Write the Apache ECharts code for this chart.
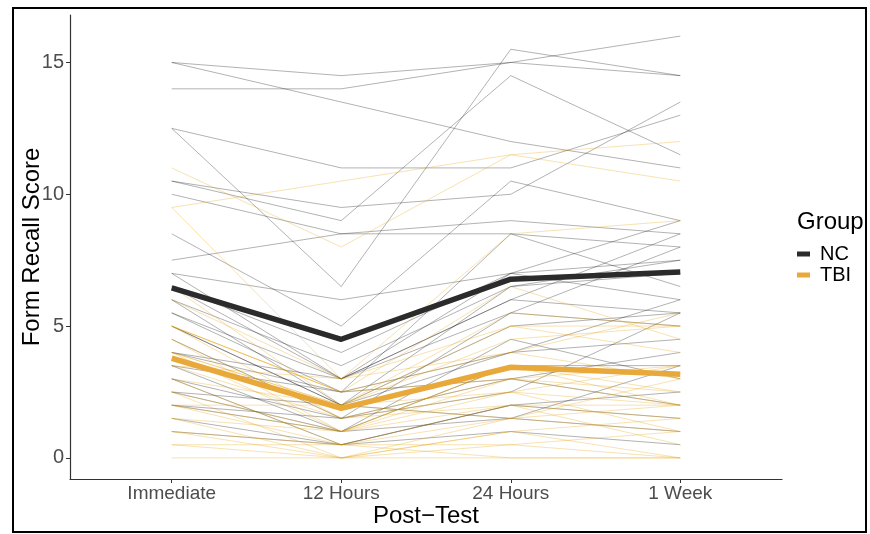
<!DOCTYPE html>
<html>
<head>
<meta charset="utf-8">
<script src="https://cdn.jsdelivr.net/npm/echarts@6/dist/echarts.min.js"></script>
<style>
html,body{margin:0;padding:0;background:#fff;}
#chart{width:870px;height:534px;}
</style>
</head>
<body>
<div id="chart"></div>
<script>
// Categories (time points)
const timePoints = ['Immediate', '12 Hours', '24 Hours', '1 Week'];
const yTicks = [0, 5, 10, 15];

// Group means (thick lines)
const ncMean = [6.45, 4.5, 6.78, 7.05];
const tbiMean = [3.78, 1.88, 3.44, 3.17];

// Individual NC participants: [Immediate, 12 Hours, 24 Hours, 1 Week]
const ncSubjects = [
  [15, 14.5, 15, 16],
  [15, 13.5, 12, 11],
  [14, 14, 15, 14.5],
  [12.5, 11, 11, 13],
  [12.5, 6.5, 15.5, 14.5],
  [10.5, 9, 14.5, 11.5],
  [10.5, 9.5, 10, 13.5],
  [10, 8.5, 9, 8.5],
  [7.5, 8.5, 8.5, 8],
  [8.5, 5, 10.5, 9],
  [7, 6, 7, 9],
  [5.5, 2.5, 8.5, 6.5],
  [7, 3, 6, 8.5],
  [6.5, 4, 7, 6],
  [6, 3.5, 6.5, 7.5],
  [5.5, 3, 6, 5.5],
  [5, 2, 5, 5.5],
  [5, 2, 4, 6],
  [4.5, 1.5, 5.5, 5],
  [4, 3, 5.5, 8],
  [4, 2.5, 3, 4],
  [3.5, 1, 4.5, 3],
  [3, 1.5, 2.5, 5.5],
  [3, 0.5, 2, 2.5],
  [2.5, 2, 1.5, 1],
  [2, 1, 3.5, 3.5],
  [1.5, 0.5, 1, 0.5],
  [6.5, 3, 7, 7.5],
  [6, 2, 6.5, 7],
  [2.5, 1, 1.5, 3.5],
  [1, 0.5, 2, 1.5],
  [3.5, 2.5, 4, 4.5],
  [2, 1.5, 3, 2]
];

// Individual TBI participants: [Immediate, 12 Hours, 24 Hours, 1 Week]
const tbiSubjects = [
  [9.5, 10.5, 11.5, 12],
  [11, 8, 11.5, 10.5],
  [9.5, 3, 8.5, 9],
  [6, 3, 5, 4],
  [4, 2, 5, 5],
  [5, 2.5, 4, 3],
  [4.5, 1.5, 3, 2],
  [4, 2, 2.5, 3.5],
  [4, 1, 3.5, 2.5],
  [3.5, 1.5, 2, 2],
  [3, 0.5, 1.5, 1],
  [3, 2, 4.5, 5],
  [2.5, 1, 2, 1.5],
  [2.5, 0, 1, 0],
  [2, 1, 3, 2.5],
  [2, 0.5, 0.5, 1],
  [1.5, 0, 1.5, 2],
  [1, 0.5, 0, 0],
  [1, 0, 1, 1.5],
  [0.5, 0.5, 2, 0.5],
  [0, 0, 0, 0],
  [5, 2.5, 6.5, 4.5],
  [6.5, 2, 5.5, 5],
  [5, 2.5, 3, 3.5],
  [5, 1.5, 2.5, 2],
  [3.5, 3, 4, 5.5],
  [2, 2, 1.5, 3],
  [0.5, 0, 0.5, 0],
  [4.5, 1, 3.5, 2],
  [1.5, 1, 2.5, 1]
];

const NC_COLOR = '#2b2b2b';
const TBI_COLOR = '#E8A93A';
const FONT = '"Liberation Sans", Arial, sans-serif';

function toPoints(vals) {
  return vals.map((v, i) => [i + 1, v]);
}

const series = [];
ncSubjects.forEach((s) => {
  series.push({
    type: 'line', data: toPoints(s), symbol: 'none', silent: true, z: 2,
    lineStyle: { color: 'rgba(0,0,0,0.3)', width: 1 }
  });
});
tbiSubjects.forEach((s) => {
  series.push({
    type: 'line', data: toPoints(s), symbol: 'none', silent: true, z: 2,
    lineStyle: { color: 'rgba(230,159,0,0.3)', width: 1 }
  });
});
series.push({
  name: 'NC', type: 'line', data: toPoints(ncMean), symbol: 'none', z: 4,
  itemStyle: { color: NC_COLOR },
  lineStyle: { color: NC_COLOR, width: 5.5, join: 'round' }
});
series.push({
  name: 'TBI', type: 'line', data: toPoints(tbiMean), symbol: 'none', z: 4,
  itemStyle: { color: TBI_COLOR },
  lineStyle: { color: TBI_COLOR, width: 5.5, join: 'round' }
});

const chart = echarts.init(document.getElementById('chart'), null, { renderer: 'canvas' });
chart.setOption({
  animation: false,
  backgroundColor: '#ffffff',
  textStyle: { fontFamily: FONT },
  grid: { left: 70, right: 88, top: 15, bottom: 55, containLabel: false },
  title: {
    text: 'Group', left: 797, top: 210, padding: 0,
    textStyle: { fontFamily: FONT, fontSize: 24, fontWeight: 'normal', color: '#000' }
  },
  legend: {
    data: [{ name: 'NC', icon: 'rect' }, { name: 'TBI', icon: 'rect' }],
    orient: 'vertical', left: 797, top: 244, padding: 0,
    itemWidth: 13, itemHeight: 5, itemGap: 1,
    textStyle: { fontFamily: FONT, fontSize: 20, color: '#000', lineHeight: 20, padding: [0, 0, 0, 5] },
    selectedMode: false
  },
  xAxis: {
    type: 'value', min: 0.4, max: 4.6,
    name: 'Post\u2212Test', nameLocation: 'middle', nameGap: 25, nameMoveOverlap: false,
    nameTextStyle: { fontFamily: FONT, fontSize: 24, color: '#000' },
    splitLine: { show: false },
    axisLine: { show: true, onZero: false, lineStyle: { color: '#333', width: 1.2 } },
    axisTick: { show: true, customValues: [1, 2, 3, 4], length: 4, lineStyle: { color: '#333', width: 1 } },
    axisLabel: {
      customValues: [1, 2, 3, 4], margin: 5, fontFamily: FONT, fontSize: 19, color: '#4d4d4d',
      formatter: (v) => timePoints[Math.round(v) - 1] || ''
    }
  },
  yAxis: {
    type: 'value', min: -0.8, max: 16.8,
    name: 'Form Recall Score', nameLocation: 'middle', nameGap: 26, nameMoveOverlap: false,
    nameTextStyle: { fontFamily: FONT, fontSize: 24, color: '#000' },
    splitLine: { show: false },
    axisLine: { show: true, onZero: false, lineStyle: { color: '#333', width: 1.2 } },
    axisTick: { show: true, customValues: yTicks, length: 4, lineStyle: { color: '#333', width: 1 } },
    axisLabel: { customValues: yTicks, margin: 6, fontFamily: FONT, fontSize: 20, color: '#4d4d4d' }
  },
  graphic: [{
    type: 'rect', silent: true, z: 100,
    shape: { x: 13, y: 8, width: 853, height: 524 },
    style: { fill: 'none', stroke: '#000', lineWidth: 2 }
  }],
  series: series
});
</script>
</body>
</html>
